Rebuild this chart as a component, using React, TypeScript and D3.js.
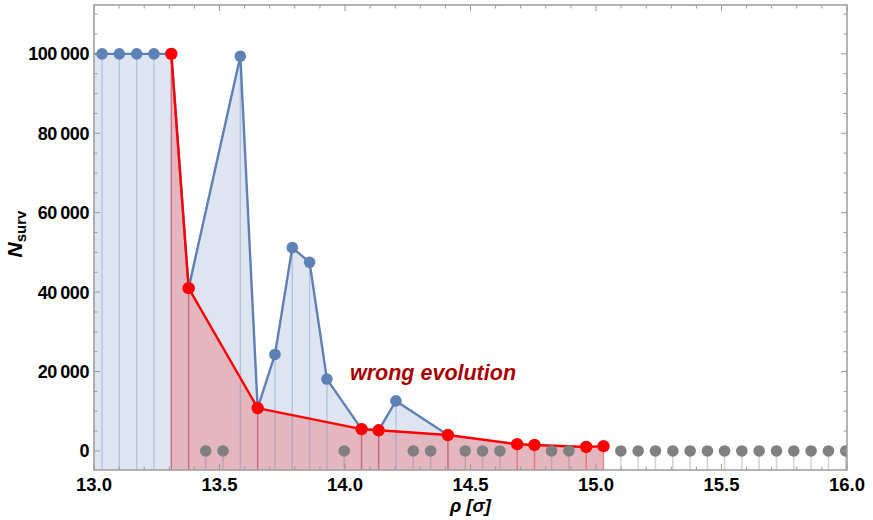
import React from "react";
import * as d3 from "d3";

// ρ positions (in σ) and survivor counts
const evolvedRho = [12.963, 13.032, 13.101, 13.170, 13.239, 13.308, 13.377, 13.583, 13.652, 13.721, 13.790, 13.859, 13.928, 14.066, 14.134, 14.203, 14.410];
const evolvedN = [100000, 100000, 100000, 100000, 100000, 100000, 41000, 99400, 10800, 24300, 51200, 47500, 18100, 5500, 5200, 12600, 4000];

const wrongRho = [13.308, 13.377, 13.652, 14.066, 14.134, 14.410, 14.686, 14.755, 14.961, 15.030];
const wrongN = [100000, 41000, 10800, 5500, 5200, 4000, 1700, 1500, 1000, 1200];

const extinctRho = [13.445, 13.514, 13.997, 14.272, 14.341, 14.479, 14.548, 14.617, 14.823, 14.892, 15.099, 15.168, 15.237, 15.306, 15.375, 15.444, 15.512, 15.581, 15.650, 15.719, 15.788, 15.857, 15.926, 15.995];
const extinctN = extinctRho.map(() => 0);

const xTicks = [13.0, 13.5, 14.0, 14.5, 15.0, 15.5, 16.0];
const yTicks = [0, 20000, 40000, 60000, 80000, 100000];

const annotation = "wrong evolution";

const W = 873, H = 520;
const L = 94, R = 847, T = 5, B = 470;
const FONT = "'Liberation Sans', Arial, sans-serif";

export default function App() {
  const x = d3.scaleLinear().domain([13, 16]).range([L, R]);
  const y = d3.scaleLinear().domain([-4800, 112300]).range([B, T]);
  const loc = d3.formatLocale({ decimal: ".", thousands: "\u2009", grouping: [3], currency: ["", ""] });
  const fy = loc.format(",");
  const fx = d3.format(".1f");

  const evolved = evolvedRho.map((r, i) => [r, evolvedN[i]] as [number, number]);
  const wrong = wrongRho.map((r, i) => [r, wrongN[i]] as [number, number]);
  const extinct = extinctRho.map((r, i) => [r, extinctN[i]] as [number, number]);

  const area = d3.area<[number, number]>().x(d => x(d[0])).y0(B).y1(d => y(d[1]));
  const line = d3.line<[number, number]>().x(d => x(d[0])).y(d => y(d[1]));

  const xMinor = d3.range(13, 16.001, 0.1).map(v => +v.toFixed(2));
  const yMinor = d3.range(-0, 112300, 5000);

  return (
    <svg width={W} height={H} style={{ position: "absolute", left: 0, top: 0 }} fontFamily={FONT}>
      <defs>
        <clipPath id="plotclip">
          <rect x={L} y={T} width={R - L} height={B - T} />
        </clipPath>
      </defs>
      <rect x={0} y={0} width={W} height={H} fill="#fff" />
      <g clipPath="url(#plotclip)">
        <path d={area(evolved) || ""} fill="#dee5f0" />
        <path d={area(wrong) || ""} fill="#e4b6bf" />
        {evolved.map((d, i) => (
          <line key={"eb" + i} x1={x(d[0])} x2={x(d[0])} y1={y(d[1])} y2={B} stroke="rgba(94,129,181,0.33)" strokeWidth={1.4} />
        ))}
        {wrong.map((d, i) => (
          <line key={"wb" + i} x1={x(d[0])} x2={x(d[0])} y1={y(d[1])} y2={B} stroke="rgba(235,30,50,0.45)" strokeWidth={1.4} />
        ))}
        {extinct.map((d, i) => (
          <line key={"xb" + i} x1={x(d[0])} x2={x(d[0])} y1={y(d[1])} y2={B} stroke="rgba(128,128,128,0.35)" strokeWidth={1.5} />
        ))}
        <path d={line(evolved) || ""} fill="none" stroke="#5e81b5" strokeWidth={2.4} strokeLinejoin="round" />
        <path d={line(wrong) || ""} fill="none" stroke="#ff0000" strokeWidth={2.4} strokeLinejoin="round" />
        {extinct.map((d, i) => (
          <circle key={"xc" + i} cx={x(d[0])} cy={y(d[1])} r={5.8} fill="#808080" />
        ))}
        {evolved.map((d, i) => (
          <circle key={"ec" + i} cx={x(d[0])} cy={y(d[1])} r={5.8} fill="#5e81b5" />
        ))}
        {wrong.map((d, i) => (
          <circle key={"wc" + i} cx={x(d[0])} cy={y(d[1])} r={6.2} fill="#ff0000" />
        ))}
      </g>

      {/* frame ticks */}
      <g stroke="#999" strokeWidth={1}>
        {xMinor.map((v, i) => {
          const major = Math.abs(v * 2 - Math.round(v * 2)) < 1e-6;
          const len = major ? 6 : 3.5;
          return (
            <g key={"xt" + i}>
              <line x1={x(v)} x2={x(v)} y1={B} y2={B - len} />
              <line x1={x(v)} x2={x(v)} y1={T} y2={T + len} />
            </g>
          );
        })}
        {yMinor.map((v, i) => {
          const major = v % 20000 === 0;
          const len = major ? 6 : 3.5;
          return (
            <g key={"yt" + i}>
              <line x1={L} x2={L + len} y1={y(v)} y2={y(v)} />
              <line x1={R} x2={R - len} y1={y(v)} y2={y(v)} />
            </g>
          );
        })}
      </g>
      <rect x={L} y={T} width={R - L} height={B - T} fill="none" stroke="#a0a0a0" strokeWidth={1.6} />

      {/* tick labels */}
      {xTicks.map((v, i) => (
        <text key={"xl" + i} x={x(v)} y={491} textAnchor="middle" fontSize={18.5} fontWeight="bold" fill="#000">
          {fx(v)}
        </text>
      ))}
      {yTicks.map((v, i) => (
        <text key={"yl" + i} x={89} y={y(v) + 6.5} textAnchor="end" fontSize={18} fontWeight="bold" fill="#000" letterSpacing={-0.4}>
          {fy(v)}
        </text>
      ))}

      {/* axis titles */}
      <text x={(L + R) / 2} y={512} textAnchor="middle" fontSize={18.5} fontWeight="bold" fontStyle="italic" fill="#000">
        {"ρ [σ]"}
      </text>
      <text transform={`translate(22,234) rotate(-90)`} textAnchor="middle" fontWeight="bold" fill="#000">
        <tspan fontSize={21} fontStyle="italic">N</tspan>
        <tspan fontSize={15} dy={4}>surv</tspan>
      </text>

      {/* annotation */}
      <text x={350} y={380} fontSize={21.5} fontWeight="bold" fontStyle="italic" fill="#a80000">
        {annotation}
      </text>
    </svg>
  );
}
